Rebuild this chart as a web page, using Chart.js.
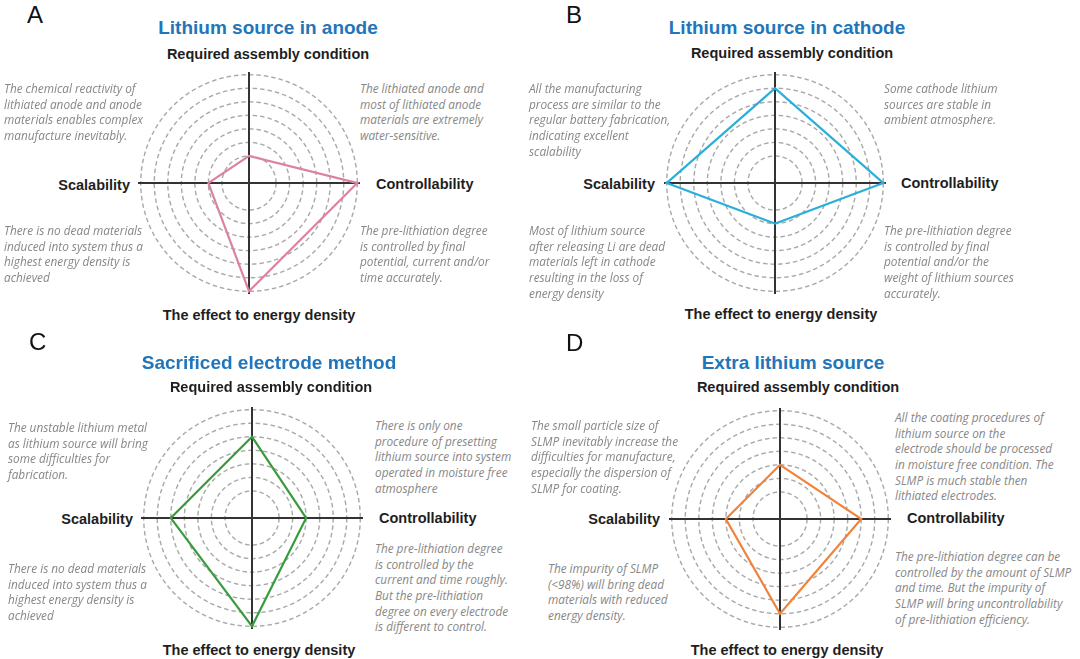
<!DOCTYPE html>
<html>
<head>
<meta charset="utf-8">
<script src="https://cdn.jsdelivr.net/npm/chart.js@4.4.1/dist/chart.umd.min.js"></script>
<style>
body { margin: 0; background: #fff; }
#page { position: relative; width: 1080px; height: 659px; overflow: hidden; background: #fff; }
.txt { position: absolute; white-space: nowrap; }
.letter { font: 24px "Liberation Sans", Arial, sans-serif; color: #111; line-height: 1; transform: translateY(-50%); }
.title { font: bold 19px "Liberation Sans", Arial, sans-serif; color: #2176bb; line-height: 1; transform: translate(-50%, -50%); }
.axis { font: bold 14.5px "Liberation Sans", Arial, sans-serif; color: #1e1e1e; line-height: 1; }
.note { font: italic 11.8px "Open Sans", sans-serif; color: #878787; line-height: 15.6px; white-space: pre; }
canvas { position: absolute; }
</style>
</head>
<body>
<div id="page"></div>
<script>
// axes, clockwise from the top
const axes = ['Required assembly condition', 'Controllability', 'The effect to energy density', 'Scalability'];

// scores on a 0-8 scale (outer ring = 8)
const anodeValues = [2, 8, 8, 3];
const cathodeValues = [7, 8, 3, 8];
const sacrificedValues = [6, 4, 8, 6];
const extraValues = [4, 6, 7, 4];

// rings that are drawn
const ringTicks = [2, 3, 4, 5, 6, 7, 8];
const scaleMax = 8.2;

const titles = ['Lithium source in anode', 'Lithium source in cathode', 'Sacrificed electrode method', 'Extra lithium source'];
const letters = ['A', 'B', 'C', 'D'];

const anodeNotes = [
	'The chemical reactivity of\nlithiated anode and anode\nmaterials enables complex\nmanufacture inevitably.',
	'The lithiated anode and\nmost of lithiated anode\nmaterials are extremely\nwater-sensitive.',
	'There is no dead materials\ninduced into system thus a\nhighest energy density is\nachieved',
	'The pre-lithiation degree\nis controlled by final\npotential, current and/or\ntime accurately.'
];
const cathodeNotes = [
	'All the manufacturing\nprocess are similar to the\nregular battery fabrication,\nindicating excellent\nscalability',
	'Some cathode lithium\nsources are stable in\nambient atmosphere.',
	'Most of lithium source\nafter releasing Li are dead\nmaterials left in cathode\nresulting in the loss of\nenergy density',
	'The pre-lithiation degree\nis controlled by final\npotential and/or the\nweight of lithium sources\naccurately.'
];
const sacrificedNotes = [
	'The unstable lithium metal\nas lithium source will bring\nsome difficulties for\nfabrication.',
	'There is only one\nprocedure of presetting\nlithium source into system\noperated in moisture free\natmosphere',
	'There is no dead materials\ninduced into system thus a\nhighest energy density is\nachieved',
	'The pre-lithiation degree\nis controlled by the\ncurrent and time roughly.\nBut the pre-lithiation\ndegree on every electrode\nis different to control.'
];
const extraNotes = [
	'The small particle size of\nSLMP inevitably increase the\ndifficulties for manufacture,\nespecially the dispersion of\nSLMP for coating.',
	'All the coating procedures of\nlithium source on the\nelectrode should be processed\nin moisture free condition. The\nSLMP is much stable then\nlithiated electrodes.',
	'The impurity of SLMP\n(<98%) will bring dead\nmaterials with reduced\nenergy density.',
	'The pre-lithiation degree can be\ncontrolled by the amount of SLMP\nand time. But the impurity of\nSLMP will bring uncontrollability\nof pre-lithiation efficiency.'
];

// layout of each panel (pixel positions only)
var R = 111;
var layout = [
	{ cx: 249, cy: 183, letter: [27, 15], title: [268, 27], top: [268, 54], right: [376, 184], bottom: [259, 315], left: [130, 185],
		notes: [[4, 89], [360, 89], [4, 231], [360, 231]] },
	{ cx: 775, cy: 183, letter: [566, 15], title: [787, 27], top: [792, 53], right: [901, 183], bottom: [781, 314], left: [655, 184],
		notes: [[529, 89], [884, 89], [529, 231], [884, 231]] },
	{ cx: 252, cy: 518, letter: [29, 342], title: [269, 362], top: [271, 387], right: [379, 518], bottom: [259, 650], left: [133, 519],
		notes: [[8, 428], [375, 426], [8, 569], [375, 549]] },
	{ cx: 780, cy: 519, letter: [566, 343], title: [793, 362], top: [798, 387], right: [907, 518], bottom: [787, 650], left: [660, 519],
		notes: [[531, 426], [895, 418], [548, 569], [895, 557]] }
];

var seriesValues = [anodeValues, cathodeValues, sacrificedValues, extraValues];
var seriesNotes = [anodeNotes, cathodeNotes, sacrificedNotes, extraNotes];
var lineColors = ['#db82a2', '#29afdb', '#3a9a3e', '#f0823a'];

var page = document.getElementById('page');

function addText(cls, text, x, y, transform) {
	var el = document.createElement('div');
	el.className = 'txt ' + cls;
	el.textContent = text;
	el.style.left = x + 'px';
	el.style.top = y + 'px';
	if(transform) {
		el.style.transform = transform;
	}
	page.appendChild(el);
	return el;
}

function drawRadar(canvas, values, color) {
	return new Chart(canvas.getContext('2d'), {
		type: 'radar',
		data: {
			labels: axes,
			datasets: [{
				data: values,
				borderColor: color,
				backgroundColor: 'transparent',
				borderWidth: 2.2,
				pointRadius: 0,
				fill: false,
			}],
		},
		options: {
			responsive: false,
			animation: false,
			devicePixelRatio: 2,
			layout: { padding: 0 },
			plugins: {
				legend: { display: false },
				tooltip: { enabled: false },
			},
			scales: {
				r: {
					min: 0,
					max: scaleMax,
					ticks: { display: false, stepSize: 1, includeBounds: false },
					pointLabels: { display: false },
					grid: {
						circular: true,
						lineWidth: 1.4,
						color: function(ctx) {
							return ctx.tick && ringTicks.indexOf(ctx.tick.value) >= 0 ? '#a8a8a8' : 'transparent';
						},
					},
					border: { dash: [4.5, 3] },
					angleLines: { color: '#333', lineWidth: 2 },
				},
			},
		},
	});
}

for(var i = 0; i < layout.length; i++) {
	var p = layout[i];

	var canvas = document.createElement('canvas');
	canvas.width = 2 * R;
	canvas.height = 2 * R;
	canvas.style.left = (p.cx - R) + 'px';
	canvas.style.top = (p.cy - R) + 'px';
	page.appendChild(canvas);
	drawRadar(canvas, seriesValues[i], lineColors[i]);

	addText('letter', letters[i], p.letter[0], p.letter[1]);
	addText('title', titles[i], p.title[0], p.title[1]);

	addText('axis', axes[0], p.top[0], p.top[1], 'translate(-50%, -50%)');
	addText('axis', axes[1], p.right[0], p.right[1], 'translate(0, -50%)');
	addText('axis', axes[2], p.bottom[0], p.bottom[1], 'translate(-50%, -50%)');
	addText('axis', axes[3], p.left[0], p.left[1], 'translate(-100%, -50%)');

	for(var j = 0; j < 4; j++) {
		addText('note', seriesNotes[i][j], p.notes[j][0], p.notes[j][1] - 7.8);
	}
}
</script>
</body>
</html>
